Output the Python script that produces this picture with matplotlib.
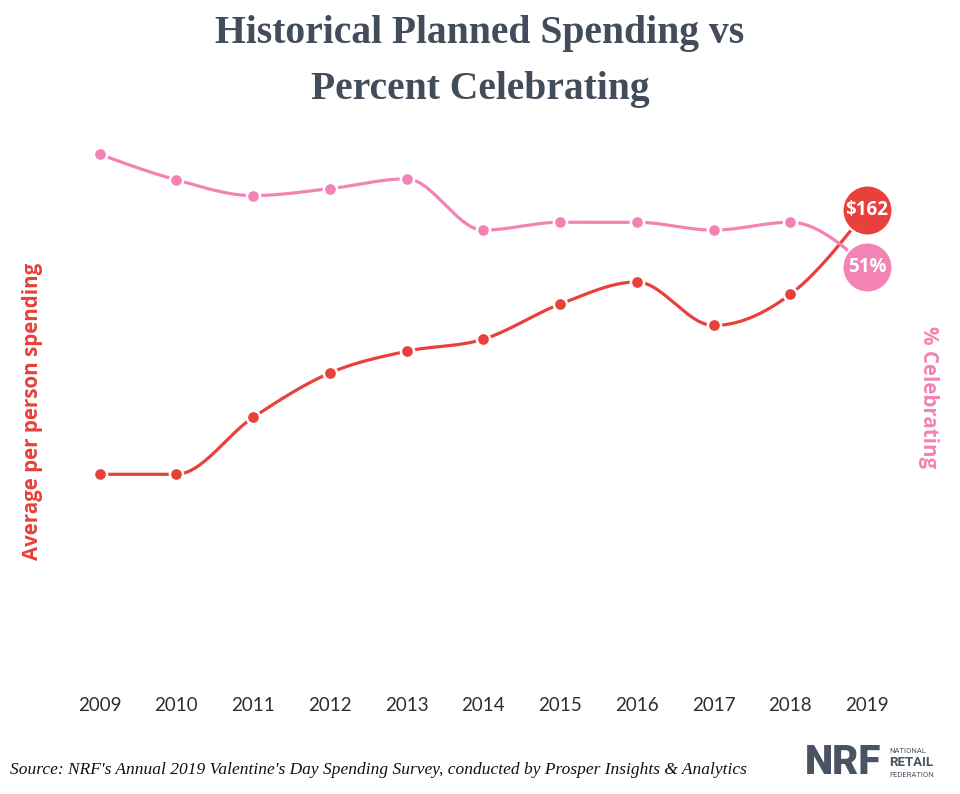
import numpy as np
import matplotlib.pyplot as plt

years = list(range(2009, 2020))
spending = [102.5, 102.5, 115.3, 125.3, 130.2, 132.9, 140.8, 145.8, 136.0, 143.0, 162.0]
celebrating = [62.4, 59.8, 58.2, 58.9, 59.9, 54.7, 55.5, 55.5, 54.7, 55.5, 51.0]
spend_label = '$162'
pct_label = '51%'

RED = '#e8403b'
PINK = '#f383b5'
SLATE = '#434c5b'
W, H = 960, 794


def monotone_curve(x, y, steps=30):
    # monotone cubic hermite, like d3.curveMonotoneX
    x = np.asarray(x, float)
    y = np.asarray(y, float)
    h = np.diff(x)
    s = np.diff(y) / h
    t = np.zeros_like(y)
    for i in range(1, len(y) - 1):
        p = (s[i - 1] * h[i] + s[i] * h[i - 1]) / (h[i - 1] + h[i])
        t[i] = (np.sign(s[i - 1]) + np.sign(s[i])) * min(abs(s[i - 1]), abs(s[i]), 0.5 * abs(p))
    t[0] = (3 * s[0] - t[1]) / 2
    t[-1] = (3 * s[-1] - t[-2]) / 2
    xs, ys = [], []
    u = np.linspace(0, 1, steps)
    h00 = 2 * u**3 - 3 * u**2 + 1
    h10 = u**3 - 2 * u**2 + u
    h01 = -2 * u**3 + 3 * u**2
    h11 = u**3 - u**2
    for i in range(len(h)):
        xs.append(x[i] + u * h[i])
        ys.append(h00 * y[i] + h10 * h[i] * t[i] + h01 * y[i + 1] + h11 * h[i] * t[i + 1])
    return np.concatenate(xs), np.concatenate(ys)


fig = plt.figure(figsize=(W / 100, H / 100), dpi=100)
fig.patch.set_facecolor('white')

rect = [60 / W, (H - 680) / H, 845 / W, 550 / H]
ax = fig.add_axes(rect)
ax2 = ax.twinx()

for a in (ax, ax2):
    for sp in a.spines.values():
        sp.set_visible(False)
    a.set_yticks([])
    a.patch.set_visible(False)

ax.set_xlim(2008.485, 2019.495)
ax.set_ylim(56.2, 180.0)
ax2.set_ylim(9.1, 64.85)

# spending line
sx, sy = monotone_curve(years, spending)
ax.plot(sx, sy, color=RED, lw=2.3, solid_capstyle='round', zorder=2)
ax.plot(years[:-1], spending[:-1], 'o', ms=9.5, mfc=RED, mec='white', mew=1.8, zorder=3)
ax.plot(years[-1], spending[-1], 'o', ms=36, mfc=RED, mec='white', mew=1.5, zorder=4)
ax.text(years[-1], spending[-1], spend_label, color='white', fontsize=13.5, fontweight='bold',
        family='Open Sans', ha='center', va='center', zorder=5)

# percent line
px, py = monotone_curve(years, celebrating)
ax2.plot(px, py, color=PINK, lw=2.3, solid_capstyle='round', zorder=2)
ax2.plot(years[:-1], celebrating[:-1], 'o', ms=9.5, mfc=PINK, mec='white', mew=1.8, zorder=3)
ax2.plot(years[-1], celebrating[-1], 'o', ms=36, mfc=PINK, mec='white', mew=1.5, zorder=4)
ax2.text(years[-1], celebrating[-1], pct_label, color='white', fontsize=13.5, fontweight='bold',
         family='Open Sans', ha='center', va='center', zorder=5)

ax.set_xticks(years)
ax.set_xticklabels([str(y) for y in years], fontsize=13.5, family='Lato', color='#2e2e2e')
ax.tick_params(axis='x', length=0, pad=12)

# titles and labels
fig.text(0.5, 1 - 33 / H, 'Historical Planned Spending vs', ha='center', va='center',
         fontsize=28.5, fontweight='bold', family='Liberation Serif', color=SLATE)
fig.text(0.5, 1 - 90 / H, 'Percent Celebrating', ha='center', va='center',
         fontsize=28.5, fontweight='bold', family='Liberation Serif', color=SLATE)

fig.text(33 / W, 1 - 411 / H, 'Average per person spending', rotation=90, ha='center', va='center',
         fontsize=14.8, fontweight='bold', family='Open Sans', color=RED)
fig.text(928 / W, 1 - 397 / H, '% Celebrating', rotation=270, ha='center', va='center',
         fontsize=14.8, fontweight='bold', family='Open Sans', color=PINK)

fig.text(10 / W, 1 - 770 / H,
         "Source: NRF's Annual 2019 Valentine's Day Spending Survey, conducted by Prosper Insights & Analytics",
         ha='left', va='center', fontsize=12.5, style='italic', family='Liberation Serif', color='#111111')

# NRF logo
fig.text(805 / W, 1 - 763 / H, 'NRF', ha='left', va='center', fontsize=29, fontweight='heavy',
         family='Roboto', color='#4a5361')
fig.text(889 / W, 1 - 751 / H, 'NATIONAL', ha='left', va='center', fontsize=5.5,
         family='Roboto', color='#4a5361')
fig.text(889 / W, 1 - 763 / H, 'RETAIL', ha='left', va='center', fontsize=9.5, fontweight='bold',
         family='Roboto', color='#4a5361')
fig.text(889 / W, 1 - 775 / H, 'FEDERATION', ha='left', va='center', fontsize=5.5,
         family='Roboto', color='#4a5361')

fig.savefig('out.png', dpi=100)
